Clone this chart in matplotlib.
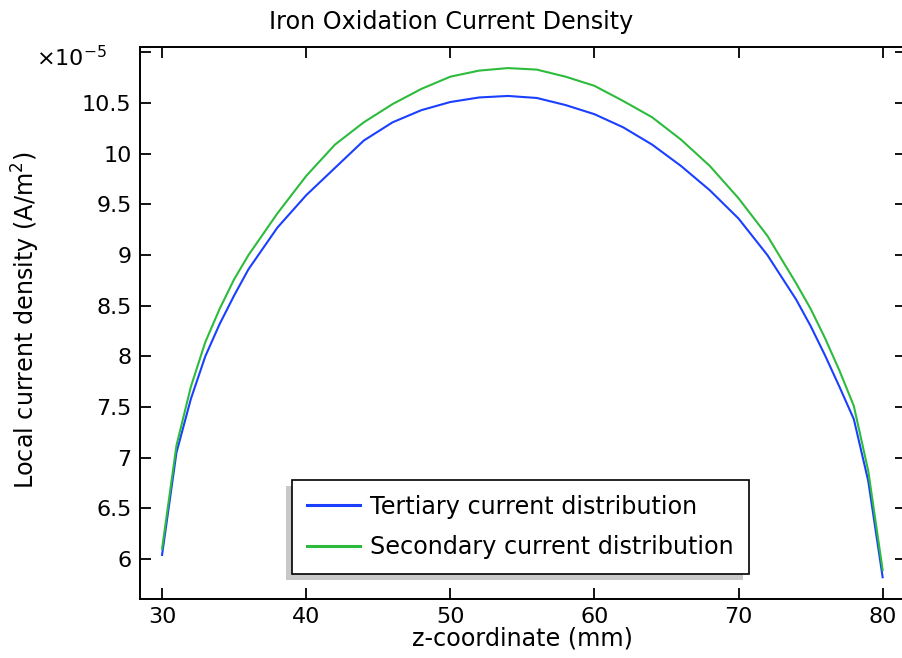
import matplotlib
matplotlib.use('Agg')
import matplotlib.pyplot as plt
from matplotlib.patches import Rectangle

plt.rcParams['font.family'] = ['DejaVu Sans']

# z-coordinate (mm)
z = [30, 31, 32, 33, 34, 35, 36, 38, 40, 42, 44, 46, 48, 50, 52, 54, 56, 58,
     60, 62, 64, 66, 68, 70, 72, 74, 75, 76, 77, 78, 79, 80]

# local current density (x1e-5 A/m^2)
tertiary = [6.04, 7.05, 7.58, 8.00, 8.32, 8.60, 8.86, 9.27, 9.59, 9.86, 10.13,
            10.31, 10.43, 10.51, 10.555, 10.57, 10.55, 10.48, 10.39, 10.26,
            10.09, 9.88, 9.64, 9.36, 9.00, 8.56, 8.30, 8.01, 7.70, 7.38, 6.77,
            5.82]
secondary = [6.10, 7.12, 7.70, 8.14, 8.47, 8.76, 9.00, 9.41, 9.78, 10.09,
             10.31, 10.49, 10.64, 10.76, 10.82, 10.845, 10.83, 10.76, 10.67,
             10.52, 10.36, 10.14, 9.88, 9.56, 9.19, 8.72, 8.47, 8.18, 7.86,
             7.51, 6.87, 5.89]

y_ticks = [6, 6.5, 7, 7.5, 8, 8.5, 9, 9.5, 10, 10.5, 11]
y_labels = ['6', '6.5', '7', '7.5', '8', '8.5', '9', '9.5', '10', '10.5', '']
x_ticks = [30, 40, 50, 60, 70, 80]

W, H = 902, 658
fig = plt.figure(figsize=(W / 100, H / 100), dpi=100)
ax = fig.add_axes([140 / W, 1 - 599 / H, 766 / W, 552.5 / H])

ax.plot(z, tertiary, color='#1a3fff', lw=1.5, label='Tertiary current distribution')
ax.plot(z, secondary, color='#2dbb3d', lw=1.5, label='Secondary current distribution')

ax.set_xlim(28.47, 81.62)
ax.set_ylim(5.605, 11.058)
ax.set_xticks(x_ticks)
ax.set_yticks(y_ticks)
ax.set_yticklabels(y_labels)
ax.tick_params(direction='in', length=8, width=1.3, labelsize=16,
               top=True, right=True, pad=6)
for s in ax.spines.values():
    s.set_linewidth(1.4)

ax.set_xlabel('z-coordinate (mm)', fontsize=17.2)
ax.xaxis.set_label_coords(0.5, -0.05)
ax.set_ylabel('Local current density (A/m$^2$)', fontsize=17.2)
ax.yaxis.set_label_coords(-0.128, 0.505)

fig.text(0.5, 1 - 22 / H, 'Iron Oxidation Current Density', fontsize=17.2,
         ha='center', va='center')
fig.text(107 / W, 1 - 66 / H, r'$\times$10$^{-5}$', fontsize=16,
         ha='right', va='baseline')

leg = ax.legend(loc='upper left', bbox_to_anchor=(0.199, 0.2154),
                borderaxespad=0, fancybox=False, framealpha=1,
                edgecolor='black', fontsize=17.2, handlelength=2.22,
                handletextpad=0.42, labelspacing=0.68, borderpad=0.62)
leg.get_frame().set_linewidth(1.2)
for h in leg.get_lines():
    h.set_linewidth(2.2)

# grey drop shadow offset down-left like the original
fig.canvas.draw()
bb = leg.get_window_extent().transformed(fig.transFigure.inverted())
fig.patches.append(Rectangle((bb.x0 - 6 / W, bb.y0 - 6 / H), bb.width, bb.height,
                             transform=fig.transFigure, facecolor='#c8c8c8',
                             edgecolor='none', zorder=0.5))
ax.set_zorder(1)
ax.patch.set_alpha(0)

fig.savefig('out.png', dpi=100)
